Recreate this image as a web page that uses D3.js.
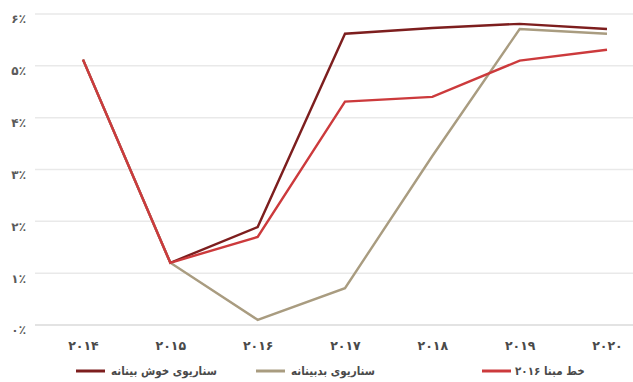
<!DOCTYPE html>
<html>
<head>
<meta charset="utf-8">
<script src="https://cdn.jsdelivr.net/npm/d3@7/dist/d3.min.js"></script>
<style>
  html, body { margin: 0; padding: 0; background: #fff; }
  svg { display: block; }
  text { font-family: "DejaVu Sans", "Noto Sans", sans-serif; }
  text.legend-label { font-family: "DejaVu Sans Condensed", "DejaVu Sans", sans-serif; }
</style>
</head>
<body>
<svg id="chart" width="633" height="382"></svg>
<script>
// Years on the x axis
const years = ["2014", "2015", "2016", "2017", "2018", "2019", "2020"];
// Growth rates (%) per scenario
const optimistic = [5.12, 1.2, 1.89, 5.62, 5.73, 5.81, 5.71];
const pessimistic = [5.12, 1.2, 0.1, 0.71, 3.26, 5.71, 5.62];
const baseline2016 = [5.12, 1.2, 1.7, 4.31, 4.4, 5.1, 5.31];
// Legend labels
const seriesNames = ["سناریوی خوش بینانه", "سناریوی بدبینانه", "خط مبنا ۲۰۱۶"];
const yTicks = [0, 1, 2, 3, 4, 5, 6];

const faDigits = "۰۱۲۳۴۵۶۷۸۹";
const toFa = s => String(s).replace(/[0-9]/g, d => faDigits[+d]);

const svg = d3.select("#chart");

const x = d3.scalePoint().domain(years).range([83, 607]);
const y = d3.scaleLinear().domain([0, 6]).range([325, 14]);

// Horizontal gridlines
svg.append("g")
  .selectAll("line")
  .data(yTicks)
  .join("line")
  .attr("x1", 35).attr("x2", 633)
  .attr("y1", d => y(d)).attr("y2", d => y(d))
  .attr("stroke", d => d === 0 ? "#c8c8c8" : "#e9e9e9")
  .attr("stroke-width", d => d === 0 ? 1.2 : 1.5);

// Y axis labels (sit slightly below their gridline)
const yAxis = d3.axisLeft(y).tickValues(yTicks).tickSize(0).tickPadding(0)
  .tickFormat(d => toFa(d) + "٪");
svg.append("g")
  .attr("transform", "translate(26,5)")
  .call(yAxis)
  .call(g => g.select(".domain").remove())
  .call(g => g.selectAll("text")
    .attr("fill", "#5a5a5a").attr("font-size", 12).attr("font-weight", "bold"));

// X axis labels
const xAxis = d3.axisBottom(x).tickSize(0).tickPadding(0).tickFormat(toFa);
svg.append("g")
  .attr("transform", "translate(0,341)")
  .call(xAxis)
  .call(g => g.select(".domain").remove())
  .call(g => g.selectAll("text")
    .attr("fill", "#4a4a4a").attr("font-size", 12.5).attr("font-weight", "bold")
    .attr("letter-spacing", 1));

const series = [
  { name: seriesNames[0], values: optimistic, color: "#7d1e1e" },
  { name: seriesNames[1], values: pessimistic, color: "#a99c80" },
  { name: seriesNames[2], values: baseline2016, color: "#cc3a3c" }
];

const line = d3.line()
  .x((d, i) => x(years[i]))
  .y(d => y(d));

svg.append("g")
  .selectAll("path")
  .data(series)
  .join("path")
  .attr("d", d => line(d.values))
  .attr("fill", "none")
  .attr("stroke", d => d.color)
  .attr("stroke-width", 2.4)
  .attr("stroke-linejoin", "miter");

// Legend: swatch line on the left, label starting just to its right
const legendPos = [
  { lx: 76, t0: 111 },
  { lx: 256, t0: 291 },
  { lx: 482, t0: 515 }
];
const legend = svg.append("g")
  .selectAll("g")
  .data(series)
  .join("g");
legend.append("line")
  .attr("x1", (d, i) => legendPos[i].lx)
  .attr("x2", (d, i) => legendPos[i].lx + 29)
  .attr("y1", 371).attr("y2", 371)
  .attr("stroke", d => d.color)
  .attr("stroke-width", 3);
legend.append("text")
  .attr("class", "legend-label")
  .attr("y", 375)
  .attr("text-anchor", "middle")
  .attr("fill", "#4a4a4a")
  .attr("font-size", 11.5)
  .attr("font-weight", "bold")
  .text(d => d.name)
  .each(function (d, i) {
    const w = this.getComputedTextLength();
    d3.select(this).attr("x", legendPos[i].t0 + w / 2);
  });
</script>
</body>
</html>
